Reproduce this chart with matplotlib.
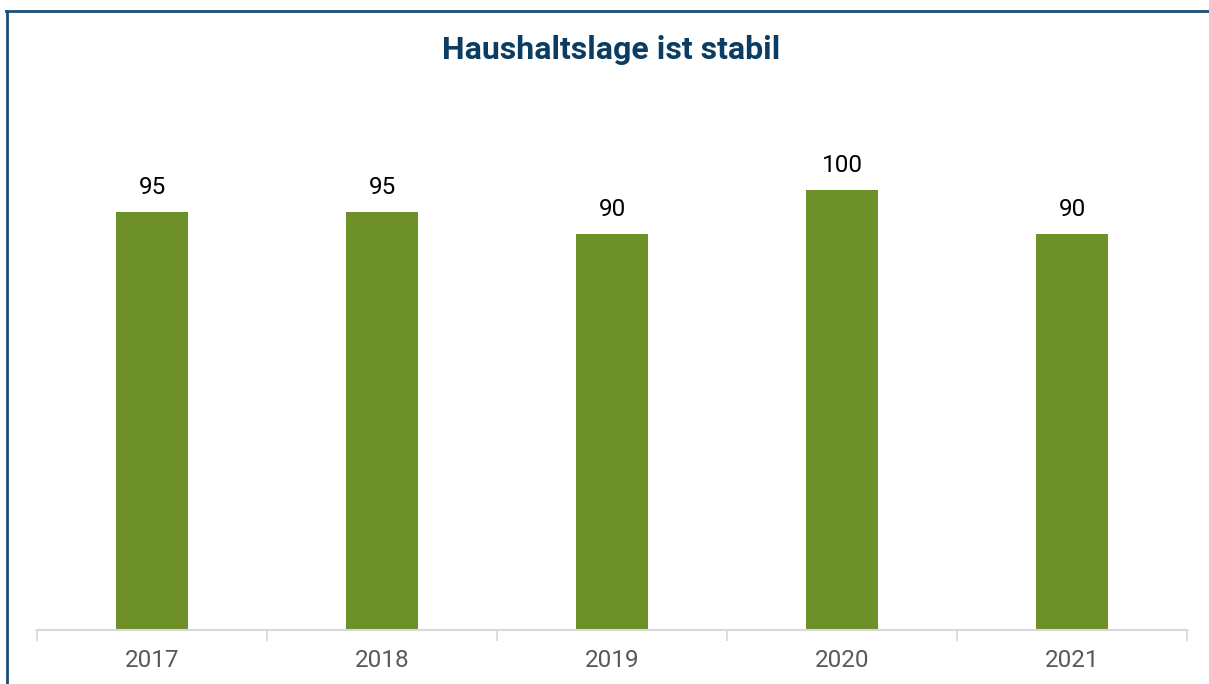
import matplotlib
matplotlib.use('Agg')
import matplotlib.pyplot as plt
from matplotlib.lines import Line2D

# data
years = ['2017', '2018', '2019', '2020', '2021']
values = [95, 95, 90, 100, 90]

BAR_COLOR = '#6e9029'
TITLE_COLOR = '#0b3d62'
FRAME_COLOR = '#1b4f7a'

plt.rcParams['font.family'] = ['Roboto', 'DejaVu Sans']

fig = plt.figure(figsize=(12.09, 6.84), dpi=100)
W, H = 1209, 684
ax = fig.add_axes([37 / W, (H - 630) / H, (1187 - 37) / W, (630 - 100) / H])

x = range(len(years))
bars = ax.bar(x, values, width=0.313, color=BAR_COLOR, zorder=2)
for b, v in zip(bars, values):
    ax.text(b.get_x() + b.get_width() / 2, v + 3.0, str(v), ha='center', va='bottom',
            fontsize=17.5, color='black')

ax.set_xlim(-0.5, len(years) - 0.5)
ax.set_ylim(0, 530 / 4.4)
ax.set_yticks([])
ax.set_xticks(list(x))
ax.set_xticklabels(years, fontsize=17.5, color='#595959')
ax.tick_params(axis='x', which='major', length=0, pad=14)
ax.set_xticks([i - 0.5 for i in range(len(years) + 1)], minor=True)
ax.tick_params(axis='x', which='minor', length=8, color='#d9d9d9', width=1.2)
for s in ['top', 'right', 'left']:
    ax.spines[s].set_visible(False)
ax.spines['bottom'].set_color('#d9d9d9')
ax.spines['bottom'].set_linewidth(1.5)

fig.text(611 / W, 1 - 50 / H, 'Haushaltslage ist stabil', ha='center', va='center',
         fontsize=23, fontweight='bold', color=TITLE_COLOR)

# frame (cropped: only top and left visible)
fig.add_artist(Line2D([7 / W, 7 / W], [0, 1 - 10.5 / H], transform=fig.transFigure,
                      color=FRAME_COLOR, lw=2))
fig.add_artist(Line2D([6 / W, 1], [1 - 10.5 / H, 1 - 10.5 / H], transform=fig.transFigure,
                      color=FRAME_COLOR, lw=2))

fig.savefig('out.png', dpi=100)
